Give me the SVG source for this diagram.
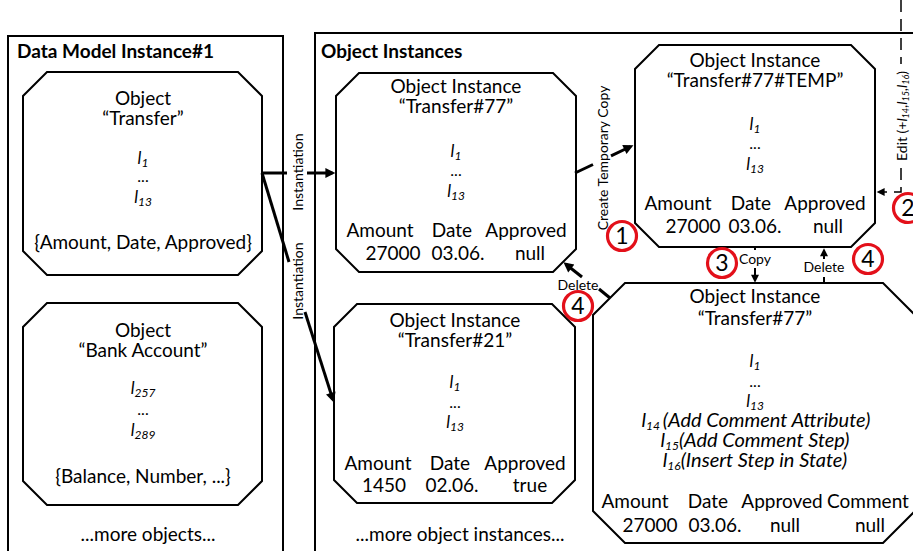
<svg xmlns="http://www.w3.org/2000/svg" width="913" height="551" viewBox="0 0 913 551">
  <style>
    text { font-family: Lato, "Liberation Sans", sans-serif; fill: #000; }
    .t { font-size: 19px; text-anchor: middle; }
    .dots { font-size: 16px; text-anchor: middle; }
    .h { font-size: 19px; font-weight: bold; }
    .l { font-size: 17px; font-style: italic; text-anchor: middle; }
    .li { font-size: 20px; font-style: italic; text-anchor: middle; }
    .sub { font-size: 12px; font-style: italic; }
    .lbl { font-size: 14px; text-anchor: middle; }
    .lsub { font-size: 9px; font-style: italic; }
    .num { font-size: 23px; text-anchor: middle; }
    .frame { fill: none; stroke: #000; stroke-width: 2; }
    .oct { fill: #fff; stroke: #000; stroke-width: 2; stroke-linejoin: miter; }
    .thick { fill: none; stroke: #000; stroke-width: 3; }
    .thin { fill: none; stroke: #000; stroke-width: 2; }
    .dash { fill: none; stroke: #000; stroke-width: 1.5; stroke-dasharray: 12 7; }
    .badge { fill: #fff; stroke: #e3101a; stroke-width: 3.2; }
  </style>
  <defs>
    <marker id="arrowBig" viewBox="0 0 10 10" markerUnits="userSpaceOnUse" markerWidth="12" markerHeight="10" refX="7" refY="5" orient="auto">
      <path d="M0,0 L10,5 L0,10 Z" fill="#000"/>
    </marker>
    <marker id="arrowSmall" viewBox="0 0 10 10" markerUnits="userSpaceOnUse" markerWidth="9" markerHeight="8" refX="7" refY="5" orient="auto">
      <path d="M0,0 L10,5 L0,10 Z" fill="#000"/>
    </marker>
  </defs>

  <rect width="913" height="551" fill="#fff"/>

  <!-- containers -->
  <g id="data-model-instance">
    <rect class="frame" x="8" y="36" width="275" height="540"/>
    <text class="h" x="17" y="58">Data Model Instance#1</text>
    <text class="t" x="148" y="541">...more objects...</text>
  </g>
  <g id="object-instances">
    <path class="frame" d="M315,570 V33 H920"/>
    <text class="h" x="321" y="58">Object Instances</text>
    <text class="t" x="460" y="541">...more object instances...</text>
  </g>

  <!-- object "Transfer" -->
  <g id="obj-transfer">
    <path class="oct" d="M47,72 H238 L262,96 V251 L238,275 H47 L23,251 V96 Z"/>
    <text class="t" x="143" y="105">Object</text>
    <text class="t" x="143" y="125">“Transfer”</text>
    <text class="l" x="143" y="164">l<tspan class="sub" dy="3">1</tspan></text>
    <text class="dots" x="143" y="182">...</text>
    <text class="l" x="143" y="203">l<tspan class="sub" dy="3">13</tspan></text>
    <text class="t" x="143" y="249">{Amount, Date, Approved}</text>
  </g>

  <!-- object "Bank Account" -->
  <g id="obj-bank-account">
    <path class="oct" d="M47,303 H238 L262,327 V481 L238,505 H47 L23,481 V327 Z"/>
    <text class="t" x="143" y="337">Object</text>
    <text class="t" x="143" y="357">“Bank Account”</text>
    <text class="l" x="143" y="394">l<tspan class="sub" dy="3">257</tspan></text>
    <text class="dots" x="143" y="415">...</text>
    <text class="l" x="143" y="436">l<tspan class="sub" dy="3">289</tspan></text>
    <text class="t" x="143" y="483">{Balance, Number, ...}</text>
  </g>

  <!-- instance Transfer#77 -->
  <g id="inst-transfer77">
    <path class="oct" d="M359,73 H553 L576,96 V249 L553,272 H359 L336,249 V96 Z"/>
    <text class="t" x="456" y="93">Object Instance</text>
    <text class="t" x="456" y="113">“Transfer#77”</text>
    <text class="l" x="456" y="157">l<tspan class="sub" dy="3">1</tspan></text>
    <text class="dots" x="456" y="176">...</text>
    <text class="l" x="456" y="197">l<tspan class="sub" dy="3">13</tspan></text>
    <text class="t" x="380" y="237">Amount</text>
    <text class="t" x="452" y="237">Date</text>
    <text class="t" x="526" y="237">Approved</text>
    <text class="t" x="393" y="260">27000</text>
    <text class="t" x="458" y="260">03.06.</text>
    <text class="t" x="530" y="260">null</text>
  </g>

  <!-- instance Transfer#21 -->
  <g id="inst-transfer21">
    <path class="oct" d="M357,304 H552 L575,327 V480 L552,503 H357 L334,480 V327 Z"/>
    <text class="t" x="455" y="327">Object Instance</text>
    <text class="t" x="455" y="347">“Transfer#21”</text>
    <text class="l" x="455" y="388">l<tspan class="sub" dy="3">1</tspan></text>
    <text class="dots" x="455" y="408">...</text>
    <text class="l" x="455" y="428">l<tspan class="sub" dy="3">13</tspan></text>
    <text class="t" x="378" y="470">Amount</text>
    <text class="t" x="450" y="470">Date</text>
    <text class="t" x="525" y="470">Approved</text>
    <text class="t" x="384" y="492">1450</text>
    <text class="t" x="452" y="492">02.06.</text>
    <text class="t" x="530" y="492">true</text>
  </g>

  <!-- temporary copy Transfer#77#TEMP -->
  <g id="inst-transfer77-temp">
    <path class="oct" d="M659,45 H851 L875,69 V223 L851,247 H659 L635,223 V69 Z"/>
    <text class="t" x="755" y="67">Object Instance</text>
    <text class="t" x="755" y="87">“Transfer#77#TEMP”</text>
    <text class="l" x="755" y="130">l<tspan class="sub" dy="3">1</tspan></text>
    <text class="dots" x="755" y="149">...</text>
    <text class="l" x="755" y="170">l<tspan class="sub" dy="3">13</tspan></text>
    <text class="t" x="678" y="210">Amount</text>
    <text class="t" x="751" y="210">Date</text>
    <text class="t" x="825" y="210">Approved</text>
    <text class="t" x="693" y="233">27000</text>
    <text class="t" x="755" y="233">03.06.</text>
    <text class="t" x="828" y="233">null</text>
  </g>

  <!-- edited instance Transfer#77 -->
  <g id="inst-transfer77-edited">
    <path class="oct" d="M625,283 H883 L915,315 V511 L883,543 H625 L593,511 V315 Z"/>
    <text class="t" x="755" y="303">Object Instance</text>
    <text class="t" x="755" y="325">“Transfer#77”</text>
    <text class="l" x="755" y="367">l<tspan class="sub" dy="3">1</tspan></text>
    <text class="dots" x="755" y="387">...</text>
    <text class="l" x="755" y="407">l<tspan class="sub" dy="3">13</tspan></text>
    <text class="li" x="756" y="427">l<tspan class="sub" dy="3">14 </tspan><tspan dy="-3">(Add Comment Attribute)</tspan></text>
    <text class="li" x="755" y="447">l<tspan class="sub" dy="3">15</tspan><tspan dy="-3">(Add Comment Step)</tspan></text>
    <text class="li" x="755" y="467">l<tspan class="sub" dy="3">16</tspan><tspan dy="-3">(Insert Step in State)</tspan></text>
    <text class="t" x="635" y="508">Amount</text>
    <text class="t" x="708" y="508">Date</text>
    <text class="t" x="782" y="508">Approved</text>
    <text class="t" x="868" y="508">Comment</text>
    <text class="t" x="650" y="532">27000</text>
    <text class="t" x="715" y="532">03.06.</text>
    <text class="t" x="785" y="532">null</text>
    <text class="t" x="870" y="532">null</text>
  </g>

  <!-- connectors -->
  <g id="connectors">
    <!-- instantiation of Transfer#77 -->
    <line class="thick" x1="262" y1="173" x2="287" y2="173"/>
    <line class="thick" x1="307" y1="173" x2="332.4" y2="173" marker-end="url(#arrowBig)"/>
    <text class="lbl" transform="translate(303,172) rotate(-90)">Instantiation</text>

    <!-- instantiation of Transfer#21 -->
    <line class="thick" x1="262" y1="173" x2="289" y2="262"/>
    <line class="thick" x1="305" y1="312" x2="332.9" y2="399.6" marker-end="url(#arrowBig)"/>
    <text class="lbl" transform="translate(303,281) rotate(-90)">Instantiation</text>

    <!-- create temporary copy -->
    <line class="thick" x1="575" y1="173" x2="593" y2="164.5"/>
    <line class="thick" x1="611" y1="155.9" x2="630.7" y2="146.5" marker-end="url(#arrowBig)"/>
    <text class="lbl" transform="translate(608,158) rotate(-90)">Create Temporary Copy</text>

    <!-- edit of the temporary copy -->
    <line class="dash" x1="901" y1="0" x2="901" y2="64"/>
    <path class="dash" d="M901,168 V192 H879" marker-end="url(#arrowSmall)"/>
    <text class="lbl" transform="translate(907,116) rotate(-90)">Edit (+<tspan font-style="italic">l</tspan><tspan class="lsub" dy="2">14</tspan><tspan dy="-2">,</tspan><tspan font-style="italic">l</tspan><tspan class="lsub" dy="2">15</tspan><tspan dy="-2">,</tspan><tspan font-style="italic">l</tspan><tspan class="lsub" dy="2">16</tspan><tspan dy="-2">)</tspan></text>

    <!-- copy back -->
    <line class="thin" x1="755" y1="247" x2="755" y2="250"/>
    <line class="thin" x1="755" y1="268" x2="755" y2="280.3" marker-end="url(#arrowSmall)"/>
    <text class="lbl" x="755" y="264">Copy</text>

    <!-- delete temporary copy -->
    <line class="thin" x1="824" y1="277" x2="824" y2="283"/>
    <line class="thin" x1="824" y1="259" x2="824" y2="250.7" marker-end="url(#arrowSmall)"/>
    <text class="lbl" x="824" y="272">Delete</text>

    <!-- delete original -->
    <line class="thick" x1="610" y1="298" x2="599" y2="289"/>
    <line class="thick" x1="582" y1="277" x2="565.8" y2="264.2" marker-end="url(#arrowBig)"/>
    <text class="lbl" x="578" y="290">Delete</text>
  </g>

  <!-- step numbers -->
  <g id="steps">
    <g id="step-1"><circle class="badge" cx="622" cy="236" r="14.5"/><text class="num" x="622" y="244">1</text></g>
    <g id="step-2"><circle class="badge" cx="908" cy="208" r="14.5"/><text class="num" x="908" y="216">2</text></g>
    <g id="step-3"><circle class="badge" cx="722" cy="263" r="14.5"/><text class="num" x="722" y="271">3</text></g>
    <g id="step-4a"><circle class="badge" cx="868" cy="259" r="14.5"/><text class="num" x="868" y="267">4</text></g>
    <g id="step-4b"><circle class="badge" cx="578" cy="306" r="14.5"/><text class="num" x="578" y="314">4</text></g>
  </g>
</svg>
